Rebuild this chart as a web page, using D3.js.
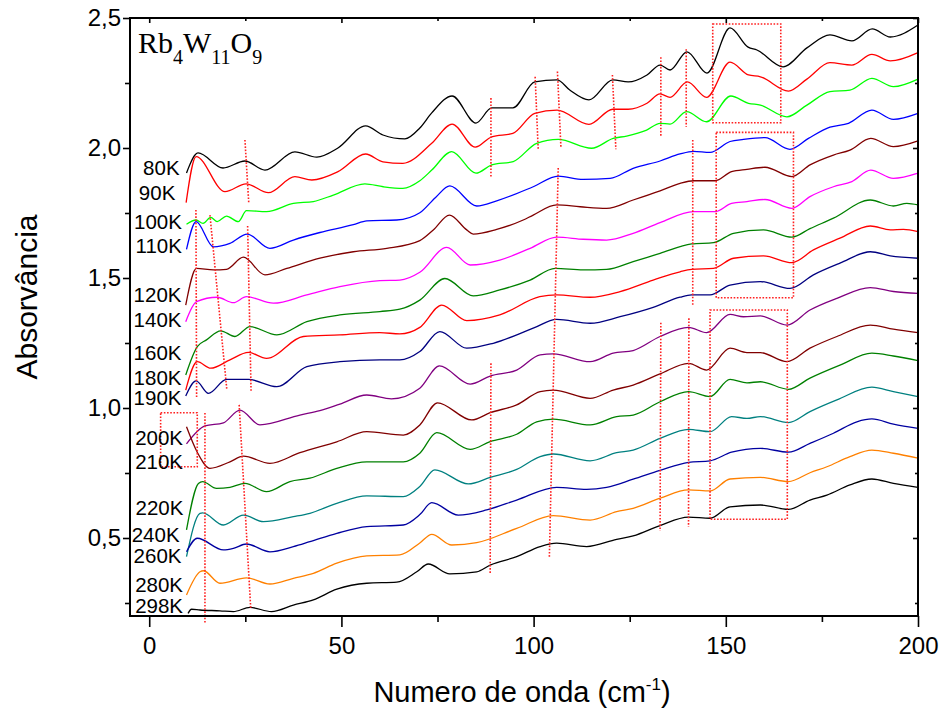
<!DOCTYPE html>
<html><head><meta charset="utf-8">
<script src="https://cdn.jsdelivr.net/npm/d3@7"></script>
<style>body{margin:0;background:#fff}svg{display:block}</style>
</head><body>
<svg id="c" width="941" height="715" font-family="Arial, 'Liberation Sans', sans-serif"></svg>
<script>
// ---------- data ----------
const temps = ["80K","90K","100K","110K","120K","140K","160K","180K","190K","200K","210K","220K","240K","260K","280K","298K"];
const s80 = [[9.7,1.904],[12.7,1.981],[19.2,1.923],[24.9,1.95],[30.1,1.915],[37.9,1.985],[43.6,1.965],[49.1,2.0],[56.3,2.085],[60.8,2.05],[66.5,2.035],[70.4,2.077],[73.5,2.135],[78.8,2.2],[85,2.096],[89.1,2.154],[94.6,2.154],[100.3,2.254],[106.1,2.262],[109.4,2.223],[114.4,2.185],[120.6,2.262],[124.6,2.254],[129.5,2.281],[132.9,2.319],[135.5,2.3],[139.9,2.37],[145.1,2.288],[151.1,2.462],[155.8,2.388],[158.1,2.377],[164.9,2.312],[171.1,2.385],[177.1,2.435],[182.8,2.412],[188.1,2.458],[192.8,2.427],[200,2.473]];
const s90 = [[9.6,1.79],[12.2,1.967],[19.7,1.832],[25.2,1.862],[31,1.828],[37.9,1.89],[42.3,1.877],[49.1,1.909],[56.3,1.977],[60.8,1.947],[66,1.941],[73.5,2.018],[78.8,2.092],[84.8,2.003],[89.1,2.043],[94.6,2.056],[100.3,2.133],[106.1,2.146],[114.4,2.091],[120.6,2.149],[124.6,2.149],[129.5,2.172],[132.9,2.208],[135.5,2.195],[140,2.254],[145,2.195],[151.1,2.33],[155.9,2.281],[159,2.274],[166.3,2.219],[171.1,2.265],[177.1,2.328],[182.8,2.319],[188,2.36],[192.8,2.335],[200,2.367]];
const s100 = [[9.7,1.707],[12.2,1.723],[14,1.71],[16,1.733],[17.7,1.717],[20.1,1.738],[23.2,1.717],[25.3,1.759],[30.5,1.755],[37.5,1.787],[42.7,1.794],[47.9,1.819],[56.1,1.862],[60.9,1.851],[66,1.845],[70.4,1.874],[73.5,1.915],[78.7,1.986],[85,1.903],[89.1,1.935],[94.7,1.948],[100.8,2.018],[106.4,2.033],[115.1,1.999],[120.7,2.037],[124.2,2.046],[129.4,2.069],[132.9,2.095],[135.5,2.092],[139.8,2.14],[145,2.101],[151.3,2.2],[155.9,2.172],[159,2.165],[165.9,2.12],[171.1,2.165],[177.1,2.217],[182.3,2.223],[188,2.268],[193.6,2.236],[200,2.265]];
const s110 = [[9.7,1.61],[12.2,1.717],[16.7,1.62],[21,1.633],[25.5,1.669],[31.4,1.614],[37.5,1.646],[44.4,1.675],[53.1,1.705],[56.6,1.72],[64.4,1.723],[70.4,1.751],[74.5,1.81],[78.2,1.854],[85.2,1.777],[90.4,1.797],[99.9,1.851],[106.4,1.892],[112.9,1.879],[119.9,1.883],[125.9,1.922],[132.9,1.95],[138.1,1.977],[141.6,1.987],[145.9,1.983],[151.1,2.025],[154.6,2.033],[160.2,2.04],[166.7,1.995],[171.5,2.037],[177.1,2.08],[181.9,2.095],[188,2.146],[193.6,2.11],[200,2.133]];
const s120 = [[9.5,1.396],[12.3,1.537],[16.7,1.531],[20.1,1.533],[24.5,1.58],[30.1,1.512],[35.8,1.537],[44.4,1.576],[53.1,1.601],[61.8,1.614],[70.4,1.644],[73.9,1.685],[78.1,1.742],[82.6,1.685],[84.3,1.669],[90.4,1.687],[97.3,1.723],[99.9,1.742],[106,1.781],[112.1,1.774],[119,1.768],[125.9,1.8],[132.9,1.835],[138.1,1.864],[141.6,1.874],[147.2,1.874],[151.5,1.909],[155.5,1.918],[160.2,1.926],[167.2,1.89],[171.9,1.935],[178,1.973],[182.3,1.992],[187.7,2.037],[193.6,2.005],[200,2.027]];
const s140 = [[9.5,1.332],[12.3,1.409],[17.7,1.426],[21.9,1.405],[25.3,1.428],[32.3,1.403],[41,1.435],[49.6,1.467],[60,1.49],[65.2,1.492],[70.4,1.522],[77.4,1.618],[83.5,1.55],[91.2,1.569],[99.1,1.614],[106,1.657],[112.9,1.649],[119,1.646],[125.9,1.672],[132.9,1.713],[141.6,1.755],[147.2,1.755],[151.5,1.787],[155.5,1.794],[160.2,1.802],[167.2,1.768],[171.9,1.813],[178,1.851],[182.8,1.871],[187.7,1.915],[193.6,1.883],[200,1.903]];
const s160 = [[9.5,1.127],[12.5,1.236],[14.9,1.262],[18.6,1.297],[22.3,1.275],[26.2,1.313],[33.2,1.281],[41,1.332],[49.6,1.358],[60,1.371],[65.2,1.38],[70.4,1.415],[76.9,1.498],[84.3,1.431],[91.2,1.454],[99.1,1.492],[105.6,1.537],[112.9,1.531],[119,1.533],[125.9,1.563],[132.9,1.595],[141.1,1.631],[146.8,1.636],[152,1.672],[159.8,1.685],[167.2,1.657],[171.9,1.69],[178,1.73],[187.6,1.8],[193.6,1.777],[197.1,1.787],[200,1.781]];
const s180 = [[9.5,1.069],[12.5,1.178],[16,1.153],[21,1.185],[25.8,1.214],[30.5,1.191],[40.1,1.275],[49.6,1.281],[60,1.29],[65.2,1.285],[70.4,1.31],[76.1,1.396],[82.6,1.336],[91.2,1.358],[101.6,1.428],[106,1.435],[114.7,1.426],[122.5,1.448],[131.1,1.492],[138.1,1.524],[141.1,1.533],[146.8,1.537],[152,1.576],[159.8,1.585],[167.2,1.559],[172.8,1.608],[179.7,1.653],[187.6,1.7],[192.8,1.685],[196.2,1.687],[200,1.678]];
const s190 = [[9.5,1.046],[12.2,1.104],[15.4,1.056],[20.1,1.11],[25.8,1.11],[33.2,1.082],[41,1.159],[49.6,1.178],[60,1.185],[65.2,1.185],[70.4,1.217],[75.6,1.294],[82.6,1.23],[89.5,1.249],[99.9,1.307],[106,1.341],[114.7,1.326],[122.5,1.351],[131.1,1.387],[138.1,1.426],[141.1,1.435],[145.9,1.435],[151.1,1.473],[159,1.486],[166.7,1.46],[172.8,1.512],[179.7,1.557],[187.6,1.601],[192.8,1.585],[200,1.576]];
const s200 = [[9.7,0.862],[14.5,0.931],[19.3,0.943],[23.6,0.992],[28.8,0.935],[39.2,0.973],[44.4,0.99],[49.6,1.015],[56.6,1.05],[63,1.035],[70.4,1.076],[75.5,1.162],[83.5,1.092],[88.7,1.123],[95.6,1.146],[101.7,1.204],[105.1,1.208],[114.7,1.178],[120.7,1.211],[125.9,1.221],[132.9,1.275],[140.3,1.31],[145,1.29],[151.1,1.36],[154.6,1.351],[159,1.354],[165.9,1.319],[171.9,1.377],[178.9,1.422],[187.6,1.463],[193.6,1.448],[200,1.441]];
const s210 = [[9.7,0.928],[12.5,0.83],[15.8,0.768],[21,0.793],[24.5,0.815],[31.4,0.787],[39.2,0.828],[48.8,0.87],[56.6,0.909],[66.1,0.896],[70.4,0.935],[75,1.02],[83.9,0.954],[88.7,0.982],[95.6,1.012],[101.7,1.063],[105.1,1.069],[114.7,1.037],[120.7,1.069],[125.9,1.088],[132.9,1.131],[140.3,1.172],[145,1.146],[151.1,1.23],[155.5,1.213],[159,1.213],[165.9,1.178],[171.9,1.23],[178.9,1.275],[187.6,1.319],[193.6,1.303],[200,1.29]];
const s220 = [[9.7,0.531],[12.8,0.71],[13.9,0.717],[17.5,0.691],[21,0.695],[24.9,0.71],[30.5,0.678],[36.6,0.717],[41.8,0.73],[48.8,0.768],[56.6,0.793],[66.1,0.793],[70.4,0.826],[74.8,0.905],[83.5,0.841],[88.7,0.871],[95.6,0.899],[100.8,0.947],[105.1,0.957],[114.7,0.935],[121.6,0.967],[125.9,0.973],[132.9,1.024],[140.3,1.063],[145.9,1.044],[151.1,1.11],[155.5,1.097],[159,1.101],[166.3,1.072],[171.9,1.115],[179.7,1.165],[188,1.211],[193.6,1.2],[200,1.182]];
const s240 = [[9.7,0.428],[13.2,0.595],[13.9,0.597],[19.3,0.55],[24.5,0.588],[29.7,0.563],[37.5,0.582],[41.8,0.595],[48.8,0.633],[56.6,0.662],[66.1,0.659],[70.4,0.698],[74.3,0.762],[83,0.708],[88.7,0.733],[95.6,0.764],[101.7,0.813],[105.1,0.823],[114.7,0.797],[121.6,0.828],[125.9,0.838],[132.9,0.883],[140.3,0.918],[145.9,0.909],[151.5,0.967],[155.5,0.96],[159,0.967],[166.3,0.944],[171.9,0.986],[178.9,1.031],[188,1.08],[193.6,1.063],[200,1.044]];
const s260 = [[9.7,0.447],[12.5,0.499],[19.3,0.454],[21.9,0.46],[25.3,0.477],[31.4,0.447],[37.5,0.467],[41.8,0.486],[48.8,0.518],[56.6,0.544],[66.1,0.55],[70.4,0.59],[73.5,0.636],[80.4,0.588],[87.8,0.608],[95.6,0.646],[106,0.695],[113.8,0.687],[119,0.695],[125.9,0.726],[132.9,0.76],[140.3,0.791],[145.9,0.797],[151.5,0.83],[159,0.845],[166.3,0.83],[171.9,0.864],[178,0.903],[184.1,0.947],[188,0.958],[193.6,0.938],[200,0.922]];
const s280 = [[9.7,0.281],[13.2,0.37],[14.1,0.374],[18.4,0.326],[25.3,0.347],[31.4,0.323],[37.5,0.345],[42.7,0.364],[48.8,0.403],[56.6,0.431],[65.2,0.435],[70.4,0.481],[73.5,0.514],[78.7,0.473],[85.2,0.482],[95.6,0.537],[105.1,0.586],[114.7,0.569],[121.6,0.601],[125.9,0.614],[132.9,0.653],[140.3,0.685],[145.9,0.681],[151.1,0.727],[159,0.733],[166.3,0.717],[171.9,0.751],[176.3,0.774],[182.3,0.813],[188,0.838],[193.6,0.826],[200,0.807]];
const s298 = [[10.1,0.21],[11,0.226],[13.2,0.223],[18.4,0.22],[21.9,0.217],[26.2,0.233],[31.8,0.217],[37.5,0.242],[42.7,0.262],[48.8,0.303],[56.6,0.326],[64.4,0.33],[69.6,0.37],[72.6,0.4],[78.2,0.362],[85.2,0.37],[88.7,0.396],[95.6,0.428],[101.7,0.467],[106,0.48],[113.8,0.467],[121.6,0.495],[125.9,0.508],[132.9,0.548],[140.3,0.58],[145.9,0.576],[151.1,0.62],[159,0.627],[166.3,0.61],[171.9,0.646],[176.3,0.665],[182.3,0.704],[188,0.727],[193.6,0.71],[200,0.695]];
const xTicks = [0,50,100,150,200];
const xMinor = [25,75,125,175];
const yTicks = [0.5,1.0,1.5,2.0,2.5];
const yMinor = [0.25,0.75,1.25,1.75,2.25];

// ---------- styles / layout ----------
const series = [s80,s90,s100,s110,s120,s140,s160,s180,s190,s200,s210,s220,s240,s260,s280,s298];
const colors = ["#000000","#ff0000","#00ff00","#0000ff","#800000","#ff00ff","#008000","#ff0000","#000080","#800080","#800000","#008000","#008080","#0000a0","#ff8000","#000000"];
// label anchor (end x, baseline y) in data units
const labelPos = [[7.9,1.896],[6.8,1.80],[8.5,1.688],[8.5,1.597],[8.4,1.409],[8.4,1.313],[8.4,1.185],[8.4,1.090],[8.4,1.010],[8.8,0.858],[8.8,0.764],[8.9,0.588],[7.9,0.486],[8.4,0.405],[8.8,0.293],[8.8,0.21]];
// dotted red annotation segments [x1,y1,x2,y2] (data units)
const annLines = [[24.9,2.031,25.9,1.788],[12.15,1.762,12.33,1.038],[15.8,1.742,20.2,1.069],[25.6,1.70,26.5,1.062],
  [14.5,0.981,14.5,0.173],[23.4,1.012,26.4,0.231],[88.9,2.192,88.9,1.89],[100.4,2.274,101.2,1.992],[106.2,2.294,107.1,2.005],
  [120.5,2.281,121.4,1.995],[133.1,2.349,133.1,2.046],[139.7,2.38,139.7,2.082],[106.4,1.923,104.1,0.427],[141.4,2.031,141.4,1.392],
  [88.9,1.172,88.7,0.365],[133.1,1.328,132.9,0.527],[140.4,1.345,140.3,0.543]];
const annRects = [[2.97,0.982,12.5,0.774],[146.6,2.477,164.3,2.097],[147.5,2.06,167.6,1.424],[145.9,1.377,166,0.572]];

const svg = d3.select("#c");
const L=130,R=918,T=18,B=616;
const x = d3.scaleLinear().domain([-5,200]).range([L,R]);
const y = d3.scaleLinear().domain([0.2,2.5]).range([B,T]);
const loc = d3.formatLocale({decimal:",",thousands:".",grouping:[3],currency:["",""]});
const fmt = loc.format(".1f");

// curves
const line = d3.line().x(d=>x(d[0])).y(d=>y(d[1])).curve(d3.curveMonotoneX);
svg.append("g").selectAll("path").data(series).join("path")
  .attr("d",line).attr("fill","none").attr("stroke",(d,i)=>colors[i]).attr("stroke-width",1.3);

// annotations
const ann = svg.append("g").attr("stroke","#ff2020").attr("stroke-width",1.6).attr("stroke-dasharray","1.6,1.6").attr("fill","none");
ann.selectAll("line").data(annLines).join("line")
  .attr("x1",d=>x(d[0])).attr("y1",d=>y(d[1])).attr("x2",d=>x(d[2])).attr("y2",d=>y(d[3]));
ann.selectAll("rect").data(annRects).join("rect")
  .attr("x",d=>x(d[0])).attr("y",d=>y(d[1])).attr("width",d=>x(d[2])-x(d[0])).attr("height",d=>y(d[3])-y(d[1]));

// axes
function styleAxis(g){g.select(".domain").remove();g.selectAll("line").attr("stroke","#000").attr("stroke-width",1.6);
  g.selectAll("text").attr("font-size",24).attr("fill","#000").attr("font-family","Arial, 'Liberation Sans', sans-serif");}
svg.append("g").attr("transform",`translate(0,${B})`).call(d3.axisBottom(x).tickValues(xTicks).tickSize(11).tickPadding(10).tickFormat(d3.format("d"))).call(styleAxis);
svg.append("g").attr("transform",`translate(0,${B})`).call(d3.axisBottom(x).tickValues(xMinor).tickSize(6).tickFormat("")).call(styleAxis);
svg.append("g").attr("transform",`translate(0,${T})`).call(d3.axisBottom(x).tickValues(xTicks).tickSize(5).tickFormat("")).call(styleAxis);
svg.append("g").attr("transform",`translate(0,${T})`).call(d3.axisBottom(x).tickValues(xMinor).tickSize(3).tickFormat("")).call(styleAxis);
svg.append("g").attr("transform",`translate(${L},0)`).call(d3.axisLeft(y).tickValues(yTicks).tickSize(7).tickPadding(2).tickFormat(fmt)).call(styleAxis);
svg.append("g").attr("transform",`translate(${L},0)`).call(d3.axisLeft(y).tickValues(yMinor).tickSize(5).tickFormat("")).call(styleAxis);
svg.append("g").attr("transform",`translate(${R},0)`).call(d3.axisLeft(y).tickValues(yTicks).tickSize(5).tickFormat("")).call(styleAxis);
svg.append("g").attr("transform",`translate(${R},0)`).call(d3.axisLeft(y).tickValues(yMinor).tickSize(3).tickFormat("")).call(styleAxis);
svg.append("rect").attr("x",L).attr("y",T).attr("width",R-L).attr("height",B-T).attr("fill","none").attr("stroke","#000").attr("stroke-width",2);

// temperature labels
svg.append("g").selectAll("text").data(temps).join("text")
  .attr("x",(d,i)=>x(labelPos[i][0])).attr("y",(d,i)=>y(labelPos[i][1]))
  .attr("text-anchor","end").attr("font-size",20.5).attr("fill","#000").text(d=>d);

// title
const t = svg.append("text").attr("x",138).attr("y",53).style("font-family","'Liberation Serif','Times New Roman',serif").attr("font-size",30).attr("fill","#000");
t.append("tspan").text("Rb");
t.append("tspan").attr("dy",11).attr("font-size",20).text("4");
t.append("tspan").attr("dy",-11).text("W");
t.append("tspan").attr("dy",11).attr("font-size",20).text("11");
t.append("tspan").attr("dy",-11).text("O");
t.append("tspan").attr("dy",11).attr("font-size",20).text("9");

// axis titles
const xt = svg.append("text").attr("x",(L+R)/2 - 2).attr("y",702).attr("text-anchor","middle").attr("font-size",29).attr("fill","#000");
xt.append("tspan").text("Numero de onda (cm");
xt.append("tspan").attr("dy",-12).attr("font-size",17).text("-1");
xt.append("tspan").attr("dy",12).text(")");
svg.append("text").attr("transform","translate(37,297) rotate(-90)").attr("text-anchor","middle").attr("font-size",30).attr("fill","#000").text("Absorvância");
</script>
</body></html>
